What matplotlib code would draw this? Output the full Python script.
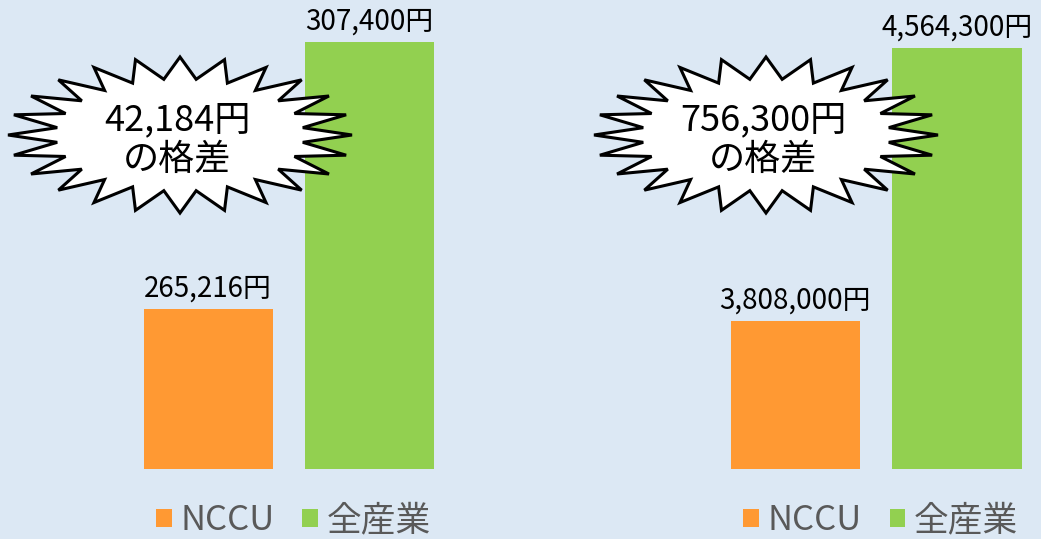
import numpy as np
import matplotlib
matplotlib.use('Agg')
import matplotlib.pyplot as plt
from matplotlib.patches import Polygon
from matplotlib.transforms import Affine2D

# 月額給与(左) と 年収(右)
labels = ['NCCU', '全産業']
monthly = [265216, 307400]
annual = [3808000, 4564300]
gap_texts = ['42,184円\nの格差', '756,300円\nの格差']
colors = ['#ff9933', '#92d050']
bg = '#dce8f4'

plt.rcParams['font.family'] = ['Noto Sans CJK JP', 'DejaVu Sans']

W, H = 1041, 539
fig = plt.figure(figsize=(W / 100, H / 100), dpi=100, facecolor=bg)

panels = [
    (monthly, [0.0, 0.5], (-1.292, 1.938), (240000, 314013), 180, 0.564),
    (annual, [0.5, 0.5], (-1.698, 1.519), (3400000, 4697784), 766, 0.692),
]

def burst(cx, cy, rx=172, ry=78, n=24, ratio=0.72):
    pts = []
    for k in range(2 * n):
        a = np.pi * k / n
        r = 1.0 if k % 2 == 0 else ratio
        pts.append((cx + rx * r * np.cos(a), H - (cy - ry * r * np.sin(a))))
    return pts

to_fig = Affine2D().scale(1 / fig.dpi) + fig.dpi_scale_trans

for (vals, (x0, w), xl, yl, bx, lx), txt in zip(panels, gap_texts):
    ax = fig.add_axes([x0, 70.5 / H, w, 1 - 70.5 / H])
    ax.set_facecolor(bg)
    for i, (lab, v, c) in enumerate(zip(labels, vals, colors)):
        b = ax.bar(i, v, width=0.8, color=c, label=lab)
        ax.bar_label(b, labels=[f'{v:,}円'], padding=4, fontsize=20, color='black')
    ax.set_xlim(*xl)
    ax.set_ylim(*yl)
    ax.axis('off')
    ax.legend(loc='center', bbox_to_anchor=(lx, -0.112),
              ncol=2, frameon=False, fontsize=25, handlelength=0.45,
              handleheight=0.45, handletextpad=0.25, columnspacing=0.8,
              labelcolor='#595959')
    fig.patches.append(Polygon(burst(bx, 135), closed=True, facecolor='white',
                               edgecolor='black', linewidth=2.2, transform=to_fig,
                               figure=fig, zorder=5))
    fig.text(bx - 3, H - 140, txt, transform=to_fig, ha='center', va='center',
             fontsize=26, linespacing=1.15, zorder=6)

fig.savefig('out.png', dpi=100, facecolor=bg)
